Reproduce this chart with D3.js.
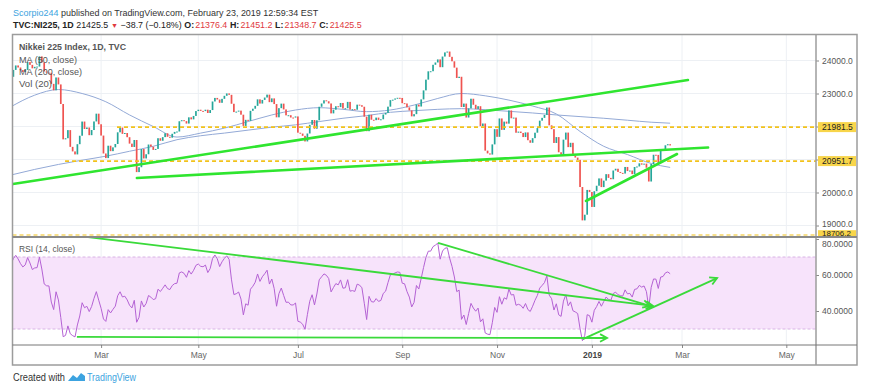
<!DOCTYPE html>
<html><head><meta charset="utf-8">
<script src="https://cdn.jsdelivr.net/npm/d3@7"></script>
<style>
body{margin:0;background:#fff}
svg{display:block}
text{font-family:"Liberation Sans",Arial,sans-serif}
</style>
</head><body>
<svg id="c" width="878" height="383"></svg>
<script>
// ---------- DATA ----------
// Daily closes, Nikkei 225, Jan 4 2018 .. Feb 22 2019 (bar index = trading day)
const closes = [
 // Jan 2018
 23506,23715,23850,23788,23710,23654,23715,23952,23868,23763,23808,23816,24124,23941,23669,23632,23629,23292,23098,
 // Feb
 23486,23275,22682,21610,21645,21891,21383,21245,21154,21464,21720,22150,21925,21970,21737,21893,22153,22389,22068,
 // Mar
 21725,21182,21042,21418,21253,21368,21470,21824,21968,21777,21803,21676,21481,21380,21591,20618,20766,21317,21031,21159,21454,
 // Apr
 21388,21292,21320,21645,21568,21678,21795,21688,21661,21779,21836,21848,22159,22191,22163,22089,22278,22216,22320,22468,
 // May
 22508,22473,22467,22509,22409,22498,22758,22866,22818,22718,22838,22930,23002,22960,22689,22437,22451,22481,22358,22018,22202,
 // Jun
 22171,22475,22539,22626,22823,22695,22805,22878,22966,22738,22852,22680,22278,22556,22693,22517,22338,22342,22272,22270,22305,
 // Jul
 21812,21786,21717,21547,21788,22052,22197,21932,22188,22598,22697,22794,22765,22698,22397,22510,22614,22587,22713,22544,22554,
 // Aug
 22746,22512,22525,22508,22662,22645,22599,22298,21858,22356,22205,22192,22270,22200,22219,22363,22411,22601,22799,22813,22849,22870,22865,
 // Sep
 22707,22697,22580,22488,22307,22374,22665,22605,22821,23095,23420,23672,23675,23870,23940,24033,23797,24120,
 // Oct
 24245,24271,24111,23976,23784,23470,23507,22591,22695,22272,22549,22842,22659,22532,22615,22011,22091,21268,21185,21149,21458,21920,
 // Nov
 21687,22244,21898,22148,22086,22487,22250,22270,21811,21846,21804,21680,21821,21584,21507,21647,21812,21952,22177,22262,22351,
 // Dec
 22575,22036,21920,21501,21679,21219,21148,21602,21816,21375,21506,21116,21058,20988,20166,19155,19327,20078,20015,
 // Jan 2019
 19562,20039,20205,20427,20164,20360,20556,20443,20402,20667,20720,20623,20594,20574,20774,20650,20665,20557,20773,
 // Feb 2019
 20788,20884,20844,20874,20751,20333,20864,21144,21140,20901,21281,21302,21431,21464,21426
];
// Late-2017 closes used only to warm up the RSI
const warmupCloses = [22725,22819,22707,22622,22178,22498,22811,22938,22866,22758,22694,22553,22902,22868,22892,22866,22902,22939,22892,22912,22784,22765];

// Moving averages: [bar, value]
const ma50 = [[0,22600],[10,22950],[20,23120],[30,23000],[40,22750],[50,22350],[60,22000],[70,21680],[80,21800],[90,21950],[100,22150],[110,22350],[120,22500],[130,22570],[140,22520],[150,22450],[160,22500],[170,22650],[180,22850],[190,23000],[200,22930],[210,22800],[220,22620],[230,22380],[240,21850],[250,21400],[260,21150],[270,20880],[278,20760]];
const ma200 = [[0,20530],[10,20700],[20,20850],[30,20980],[40,21100],[50,21250],[60,21400],[70,21600],[80,21720],[90,21800],[100,21890],[110,21980],[120,22050],[130,22150],[140,22250],[150,22330],[160,22430],[170,22480],[180,22520],[190,22540],[200,22510],[210,22460],[220,22410],[230,22350],[240,22300],[250,22250],[260,22190],[270,22130],[278,22100]];

const monthLabels = ["Mar","May","Jul","Sep","Nov","2019","Mar","May"];
const monthBars   = [38,79,121,165,205,245,283,327];
const priceTicks  = [19000,20000,21000,22000,23000,24000];
const rsiTicks    = [80,60,40];
const rsiBand     = [30,70];

// horizontal levels (value, first bar)
const levelValues = [21981.5,20951.7,18706.2];
const levelStart  = [44.7,22.8,-1];

// trend lines [bar, value] pairs
const priceLines = [
  [[0.8,20258],[285.5,23409]],
  [[53.1,20439],[294,21364]],
  [[242.5,19742],[280.9,21167]]
];
const rsiLines = [ // [start, end, arrow?]
  [[32.5,81.1],[270.8,42.8],true],
  [[180.1,77.9],[269.5,42.8],true],
  [[27.8,25.6],[251.4,25.0],true],
  [[241.2,24.4],[297.8,58.3],true]
];

// header texts
const headerLine1 = [["Scorpio244","#3ca3e0",false],["published on TradingView.com, February 23, 2019 12:59:34 EST","#333",false]];
const headerLine2 = [
  ["TVC:NI225, 1D","#222",true],["21425.5","#222",false],["▼","#e0393e",false],["\u221238.7 (\u22120.18%)","#222",false],
  ["O:","#222",true,0],["21376.4","#e0393e",false],["H:","#222",true,0],["21451.2","#e0393e",false],
  ["L:","#222",true,0],["21348.7","#e0393e",false],["C:","#222",true,0],["21425.5","#e0393e",false]
];

// ---------- SCALES ----------
const svg = d3.select("#c");
const L=12.5, R=816, FR=857, PT=34.5, PB=236.5, RB=345, FB=365;
const x  = d3.scaleLinear().domain([0,283]).range([11,682]);
const yP = d3.scaleLinear().domain([19000,24000]).range([225.5,60.5]);
const yR = d3.scaleLinear().domain([40,60]).range([311,275]);

const defs = svg.append("defs");
defs.append("clipPath").attr("id","cp").append("rect").attr("x",L).attr("y",PT).attr("width",R-L).attr("height",PB-PT-1);
defs.append("clipPath").attr("id","cr").append("rect").attr("x",L).attr("y",PB+1).attr("width",R-L).attr("height",RB-PB-1);
defs.append("clipPath").attr("id","ca").append("rect").attr("x",R).attr("y",PT).attr("width",FR-R).attr("height",PB-PT);
defs.append("clipPath").attr("id","cra").append("rect").attr("x",R).attr("y",PB+1).attr("width",FR-R).attr("height",RB-PB);

const grid="#edf0f4";
const gP = svg.append("g").attr("clip-path","url(#cp)");
const gR = svg.append("g").attr("clip-path","url(#cr)");
monthBars.forEach(b=>{
  gP.append("line").attr("x1",x(b)).attr("x2",x(b)).attr("y1",PT).attr("y2",PB).attr("stroke",grid);
  gR.append("line").attr("x1",x(b)).attr("x2",x(b)).attr("y1",PB).attr("y2",RB).attr("stroke",grid);
});
priceTicks.forEach(v=>gP.append("line").attr("x1",L).attr("x2",R).attr("y1",yP(v)).attr("y2",yP(v)).attr("stroke",grid));

// RSI band
gR.append("rect").attr("x",L).attr("width",R-L).attr("y",yR(rsiBand[1])).attr("height",yR(rsiBand[0])-yR(rsiBand[1])).attr("fill","#f7e3fb");
rsiBand.forEach(v=>gR.append("line").attr("x1",L).attr("x2",R).attr("y1",yR(v)).attr("y2",yR(v)).attr("stroke","#d8b4e4").attr("stroke-dasharray","3,2"));

// MA lines
const maLine = d3.line().x(d=>x(d[0])).y(d=>yP(d[1])).curve(d3.curveMonotoneX);
[ma50,ma200].forEach(m=>gP.append("path").attr("d",maLine(m)).attr("fill","none").attr("stroke","#93a9d6").attr("stroke-width",1));

// candles
const up="#26a69a", dn="#ef5350";
const bw = 1.7;
closes.forEach((c,i)=>{
  const o = i===0 ? warmupCloses[warmupCloses.length-1] : closes[i-1];
  const col = c>=o ? up : dn;
  const y1 = yP(Math.max(o,c)), y2 = yP(Math.min(o,c));
  gP.append("rect").attr("x",x(i)-bw/2).attr("y",y1).attr("width",bw).attr("height",Math.max(1,y2-y1)).attr("fill",col);
});

// level lines
const lvlCol="#f2c21b";
levelValues.forEach((v,k)=>{
  gP.append("line").attr("x1",Math.max(L,x(levelStart[k]))).attr("x2",R).attr("y1",yP(v)).attr("y2",yP(v))
   .attr("stroke",lvlCol).attr("stroke-width",1.6).attr("stroke-dasharray","4,3");
});

// price trend lines
priceLines.forEach(l=>{
  gP.append("line").attr("x1",x(l[0][0])).attr("y1",yP(l[0][1])).attr("x2",x(l[1][0])).attr("y2",yP(l[1][1]))
   .attr("stroke","#2fe52f").attr("stroke-width",2.6).attr("stroke-linecap","round");
});

// RSI computation (Wilder, 14, close)
const all = warmupCloses.concat(closes);
const N=14; let ag=0, al=0; const rsiAll=[];
for(let i=1;i<all.length;i++){
  const ch=all[i]-all[i-1], g=Math.max(ch,0), l=Math.max(-ch,0);
  if(i<=N){ag+=g/N; al+=l/N; rsiAll[i]=null;}
  else {ag=(ag*(N-1)+g)/N; al=(al*(N-1)+l)/N;}
  if(i>=N) rsiAll[i]=100-100/(1+ag/al);
}
const rsi = closes.map((c,i)=>[i, rsiAll[i+warmupCloses.length]]);
gR.append("path").attr("d",d3.line().x(d=>x(d[0])).y(d=>yR(d[1]))(rsi)).attr("fill","none").attr("stroke","#b462d4").attr("stroke-width",1);

// RSI trend lines + arrows
const gRA = svg.append("g");
rsiLines.forEach(l=>{
  const x1=x(l[0][0]), y1=yR(l[0][1]), x2=x(l[1][0]), y2=yR(l[1][1]);
  gRA.append("line").attr("x1",x1).attr("y1",y1).attr("x2",x2).attr("y2",y2).attr("stroke","#3ada3a").attr("stroke-width",1.8);
  if(l[2]){
    const a=Math.atan2(y2-y1,x2-x1), s=8, w=0.5;
    const p1=[x2-s*Math.cos(a-w), y2-s*Math.sin(a-w)], p2=[x2-s*Math.cos(a+w), y2-s*Math.sin(a+w)];
    gRA.append("path").attr("d",`M${p1}L${x2},${y2}L${p2}`).attr("fill","none").attr("stroke","#3ada3a").attr("stroke-width",1.8);
  }
});

// ---------- AXES ----------
const fr="#9c9c9c";
const ga = svg.append("g").attr("clip-path","url(#ca)");
const pax = ga.append("g").attr("transform",`translate(${R},0)`)
  .call(d3.axisRight(yP).tickValues(priceTicks).tickSize(3).tickPadding(3).tickFormat(d=>d.toFixed(1)));
pax.select(".domain").remove();
pax.selectAll("line").attr("stroke","#888");
pax.selectAll("text").attr("fill","#555").style("font-size","8.5px");
pax.selectAll(".tick").filter(d=>d===19000).select("text").attr("dy","0.1em");
levelValues.forEach((v,k)=>{
  ga.append("rect").attr("x",R+2).attr("y",yP(v)-5).attr("width",FR-R-3).attr("height",10).attr("fill","#f8d54a");
  ga.append("text").attr("x",R+6).attr("y",yP(v)+(k===2?1.1:3.2)).text(v.toFixed(1)).attr("fill","#222").style("font-size",k===2?"8px":"8.5px");
});
const gra = svg.append("g").attr("clip-path","url(#cra)");
const rax = gra.append("g").attr("transform",`translate(${R},0)`)
  .call(d3.axisRight(yR).tickValues(rsiTicks).tickSize(3).tickPadding(3).tickFormat(d=>d.toFixed(4)));
rax.select(".domain").remove();
rax.selectAll("line").attr("stroke","#888");
rax.selectAll("text").attr("fill","#555").style("font-size","8.5px");
rax.selectAll(".tick").filter(d=>d===80).select("text").attr("dy","0.88em");

const tax = svg.append("g").attr("transform",`translate(0,${RB})`)
  .call(d3.axisBottom(x).tickValues(monthBars).tickSize(3).tickPadding(4).tickFormat((d,i)=>monthLabels[i]));
tax.select(".domain").remove();
tax.selectAll("line").attr("stroke","#888");
tax.selectAll("text").style("font-size","8.5px")
  .style("font-weight",(d,i)=>monthLabels[i]==="2019"?"bold":"normal").attr("fill",(d,i)=>monthLabels[i]==="2019"?"#444":"#666");

// frames
svg.append("rect").attr("x",L).attr("y",PT).attr("width",FR-L).attr("height",FB-PT).attr("fill","none").attr("stroke",fr).attr("stroke-width",1.5);
svg.append("line").attr("x1",R).attr("x2",R).attr("y1",PT).attr("y2",FB).attr("stroke",fr).attr("stroke-width",1.5);
svg.append("line").attr("x1",L).attr("x2",FR).attr("y1",PB+0.5).attr("y2",PB+0.5).attr("stroke","#8a8a8a").attr("stroke-width",2);
svg.append("line").attr("x1",L).attr("x2",FR).attr("y1",RB).attr("y2",RB).attr("stroke","#777").attr("stroke-width",1);

// pane labels
const lab=(t,xx,yy,opts={})=>{const e=svg.append("text").attr("x",xx).attr("y",yy).text(t).attr("fill",opts.fill||"#555").style("font-size",(opts.size||10)+"px").style("font-weight",opts.bold?"bold":"normal"); if(opts.len) e.attr("textLength",opts.len).attr("lengthAdjust","spacingAndGlyphs"); return e;};
lab("Nikkei 225 Index, 1D, TVC",19,50,{bold:true,len:107,size:9.5});
lab("MA (50, close)",19,63,{len:58,size:9.5});
lab("MA (200, close)",19,75,{len:63,size:9.5});
lab("Vol (20)",19,87,{len:33,size:9.5});
lab("RSI (14, close)",19,252,{len:56,size:9.5});

// header rows: separate text runs laid out one after another, font size fitted to the target width
function row(parts, x0, y, target, size0){
  const make = (size)=>{
    const g = svg.append("g"); let cx = x0;
    parts.forEach(p=>{
      const t = g.append("text").attr("x",cx).attr("y",y).attr("fill",p[1])
        .style("font-size",(p[0]==="▼"?size*0.8:size)+"px").style("font-weight",p[2]?"bold":"normal").text(p[0]);
      const gap = p.length>3 ? size*0.12 : size*0.3;
      cx += t.node().getComputedTextLength() + gap;
    });
    return [g, cx - x0];
  };
  let [g,w] = make(size0); g.remove();
  const s = size0*target/w;
  make(s);
}
row(headerLine1, 13, 16, 308, 10.5);
row(headerLine2, 13, 28, 352, 10);

// footer
lab("Created with",13,381,{fill:"#333",size:10,len:52});
svg.append("path").attr("d","M68,381 L73,375 L77,378 L81,373 L85,376 L85,381 Z").attr("fill","#3ca3e0");
lab("TradingView",87,381,{fill:"#3ca3e0",size:10,len:49});
</script>
</body></html>
